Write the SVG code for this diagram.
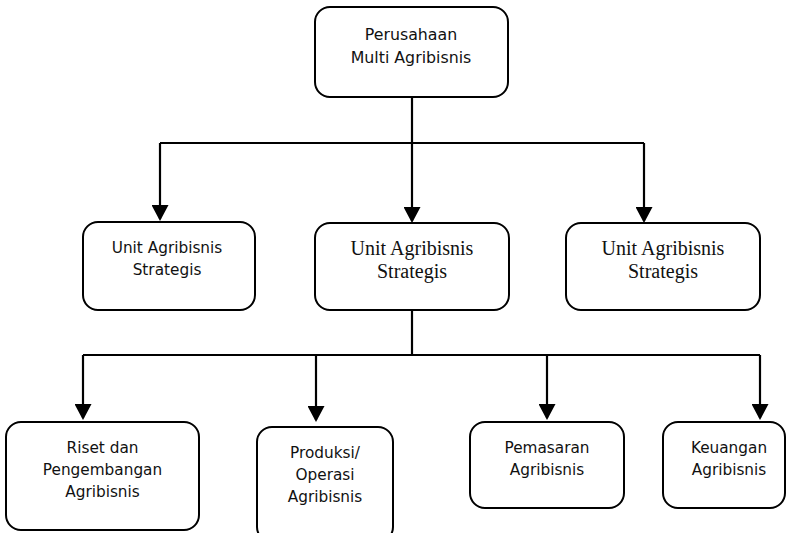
<svg xmlns="http://www.w3.org/2000/svg" width="790" height="533" viewBox="0 0 790 533">
<style>
.box{fill:#fff;stroke:#000;stroke-width:2}
.ln{fill:none;stroke:#000;stroke-width:2.2}
.s{font-family:"DejaVu Sans",Verdana,sans-serif;font-size:15.3px;fill:#111;text-anchor:middle}
.t{font-family:"DejaVu Sans",Verdana,sans-serif;font-size:15.8px;fill:#111;text-anchor:middle}
.r{font-family:"Liberation Serif","Times New Roman",serif;font-size:20px;fill:#111;text-anchor:middle}
</style>
<defs>
<marker id="ah" viewBox="0 0 16 17" refX="14" refY="8.5" markerWidth="16" markerHeight="17" markerUnits="userSpaceOnUse" orient="auto">
<path d="M0,0 L16,8.5 L0,17 z" fill="#000"/>
</marker>
</defs>
<rect width="790" height="533" fill="#fff"/>
<g id="connectors">
<path class="ln" d="M412,97 V143"/>
<path class="ln" d="M160,143 H644"/>
<path class="ln" d="M160,143 V219" marker-end="url(#ah)"/>
<path class="ln" d="M412,143 V221" marker-end="url(#ah)"/>
<path class="ln" d="M644,143 V221" marker-end="url(#ah)"/>
<path class="ln" d="M412,310 V355"/>
<path class="ln" d="M83,355 H760"/>
<path class="ln" d="M83,355 V418" marker-end="url(#ah)"/>
<path class="ln" d="M316,355 V420" marker-end="url(#ah)"/>
<path class="ln" d="M547,355 V418" marker-end="url(#ah)"/>
<path class="ln" d="M760,355 V418" marker-end="url(#ah)"/>
</g>
<g id="n-top">
<rect class="box" x="315" y="7" width="193" height="90" rx="15"/>
<text class="t" x="411" y="40">Perusahaan</text>
<text class="t" x="411" y="63">Multi Agribisnis</text>
</g>
<g id="n-sbu1">
<rect class="box" x="83" y="222" width="172" height="88" rx="15"/>
<text class="s" x="167" y="253">Unit Agribisnis</text>
<text class="s" x="167" y="275">Strategis</text>
</g>
<g id="n-sbu2">
<rect class="box" x="315" y="223" width="194" height="87" rx="15"/>
<text class="r" x="412" y="255">Unit Agribisnis</text>
<text class="r" x="412" y="278">Strategis</text>
</g>
<g id="n-sbu3">
<rect class="box" x="566" y="223" width="194" height="87" rx="15"/>
<text class="r" x="663" y="255">Unit Agribisnis</text>
<text class="r" x="663" y="278">Strategis</text>
</g>
<g id="n-riset">
<rect class="box" x="6" y="422" width="193" height="108" rx="15"/>
<text class="s" x="102.5" y="453">Riset dan</text>
<text class="s" x="102.5" y="475">Pengembangan</text>
<text class="s" x="102.5" y="497">Agribisnis</text>
</g>
<g id="n-produksi">
<rect class="box" x="257" y="427" width="136" height="115" rx="15"/>
<text class="s" x="325" y="458">Produksi/</text>
<text class="s" x="325" y="480">Operasi</text>
<text class="s" x="325" y="502">Agribisnis</text>
</g>
<g id="n-pemasaran">
<rect class="box" x="470" y="422" width="154" height="86" rx="15"/>
<text class="s" x="547" y="453">Pemasaran</text>
<text class="s" x="547" y="475">Agribisnis</text>
</g>
<g id="n-keuangan">
<rect class="box" x="663" y="422" width="122" height="86" rx="15"/>
<text class="s" x="729" y="453">Keuangan</text>
<text class="s" x="729" y="475">Agribisnis</text>
</g>
</svg>
